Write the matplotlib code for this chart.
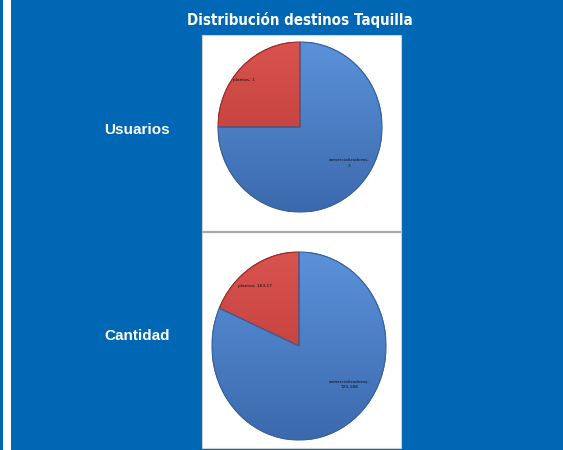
import matplotlib
matplotlib.use("Agg")
import matplotlib.pyplot as plt
import numpy as np
from matplotlib.patches import Rectangle
from matplotlib.colors import LinearSegmentedColormap
from matplotlib import font_manager as fm

title = "Distribución destinos Taquilla"
row_labels = ["Usuarios", "Cantidad"]
categories = ["plantas", "comercializadoras"]
usuarios_values = [1, 3]
cantidad_values = [163.17, 723.188]
usuarios_text = ["1", "3"]
cantidad_text = ["163,17", "723,188"]

colors = ["#c9403c", "#4a7fc4"]
light_colors = ["#d9534f", "#5a92da"]
dark_colors = ["#b63633", "#3c69ad"]
edge_colors = ["#9a2e2b", "#37649e"]
bg = "#0067b4"

names = {f.name for f in fm.fontManager.ttflist}
cond = "Liberation Sans Narrow" if "Liberation Sans Narrow" in names else "DejaVu Sans"

W, H = 563, 450
fig = plt.figure(figsize=(W / 100, H / 100), dpi=100)
fig.patch.set_facecolor(bg)

def fx(x):
    return x / W

def fy(y):
    return 1 - y / H

# white stripe at the left
fig.patches.append(Rectangle((fx(3), 0), fx(8), 1, transform=fig.transFigure,
                             facecolor="white", edgecolor="none", zorder=0))
# white panel
fig.patches.append(Rectangle((fx(202), fy(448)), fx(199), (448 - 35) / H,
                             transform=fig.transFigure, facecolor="white",
                             edgecolor="#d0d0d0", linewidth=0.8, zorder=0))
# separator line
fig.add_artist(plt.Line2D([fx(203), fx(400)], [fy(232), fy(232)],
                          transform=fig.transFigure, color="#a8a8a8", linewidth=1.6,
                          zorder=0.5))

fig.text(fx(300), fy(20), title, ha="center", va="center", color="white",
         fontsize=10.8, fontweight="bold", fontstretch="condensed",
         family=[cond, "DejaVu Sans"])

grad = np.linspace(1, 0, 256).reshape(-1, 1)

def draw_pie(cx, cy, rx, ry, values, texts, label_pos):
    ax = fig.add_axes([fx(cx - rx), fy(cy + ry), fx(2 * rx), 2 * ry / H])
    ax.set_zorder(2)
    ax.patch.set_alpha(0)
    wedges, _ = ax.pie(values, colors=colors, startangle=90, counterclock=True,
                       radius=1.0,
                       wedgeprops=dict(linewidth=0.8))
    ax.set_aspect("auto")
    ax.set_xlim(-1, 1)
    ax.set_ylim(-1, 1)
    ax.axis("off")
    for w, ec, lc, dc in zip(wedges, edge_colors, light_colors, dark_colors):
        w.set_edgecolor(ec)
        cmap = LinearSegmentedColormap.from_list("g", [dc, lc])
        im = ax.imshow(grad, cmap=cmap, extent=(-1, 1, -1, 1), aspect="auto",
                       origin="upper", zorder=w.get_zorder() + 0.1,
                       interpolation="bilinear")
        im.set_clip_path(w)
        ov = plt.matplotlib.patches.Wedge((0, 0), w.r, w.theta1, w.theta2,
                                          facecolor="none", edgecolor=ec,
                                          linewidth=0.8,
                                          zorder=w.get_zorder() + 0.2)
        ax.add_patch(ov)
    ax.set_xlim(-1, 1)
    ax.set_ylim(-1, 1)
    for (lx, ly), cat, t in zip(label_pos, categories, texts):
        ax.text(lx, ly, f"{cat};\n{t}" if cat == "comercializadoras" else f"{cat}; {t}",
                ha="center", va="center", fontsize=3.2, color="#111111",
                linespacing=1.6, zorder=5)
    return ax

draw_pie(300, 127, 82, 85, usuarios_values, usuarios_text,
         [(-0.68, 0.55), (0.6, -0.42)])
draw_pie(299, 346, 87, 94, cantidad_values, cantidad_text,
         [(-0.5, 0.64), (0.58, -0.41)])

for lab, y in zip(row_labels, [130, 336]):
    fig.text(fx(137), fy(y), lab, ha="center", va="center", color="white",
             fontsize=11, fontweight="bold", family=["Liberation Sans", "DejaVu Sans"])

fig.savefig("out.png", dpi=100, facecolor=bg)
